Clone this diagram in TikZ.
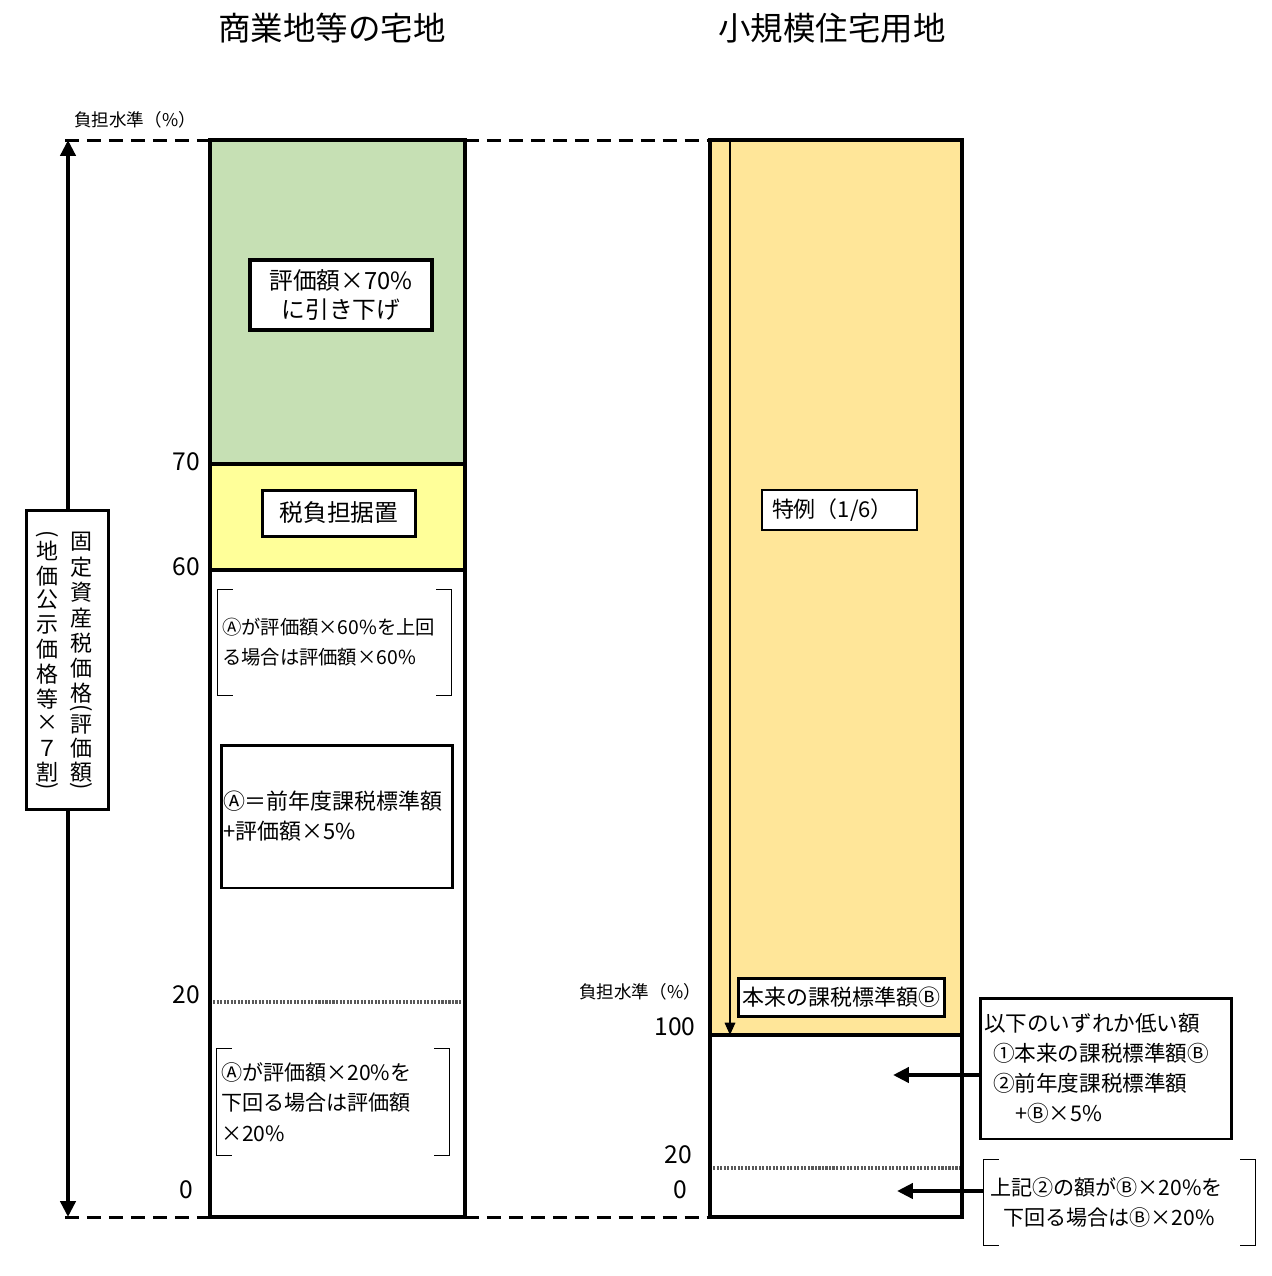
\documentclass[tikz,border=0pt]{standalone}
\usepackage{fontspec}
\setmainfont{Noto Sans CJK JP}
\usetikzlibrary{arrows.meta,calc,positioning}
\definecolor{vertclair}{RGB}{198,224,180}
\definecolor{jaunepale}{RGB}{255,255,153}
\definecolor{orangeclair}{RGB}{255,230,153}
% crochets autour d'un texte
\newcommand{\crochets}[1]{%
  \draw[crochet] ($(#1.north west)+(15,0)$) -- (#1.north west) -- (#1.south west) -- ++(15,0);
  \draw[crochet] ($(#1.north east)+(-15,0)$) -- (#1.north east) -- (#1.south east) -- ++(-15,0);}

\begin{document}
\begin{tikzpicture}[x=0.02cm,y=-0.02cm,>=Stealth,
  cadre/.style={draw,line width=1.7pt,fill=white,inner sep=0pt},
  crochet/.style={line width=0.6pt},
  tirets/.style={line width=1.7pt,dash pattern=on 8pt off 4.5pt},
  pointille/.style={line width=2pt,black!65,dash pattern=on 1.2pt off 0.8pt},
  fleche/.style={line width=2.3pt,-{Triangle[length=9pt,width=8.5pt]}},
  colonne/.style={line width=2.4pt},
  graduation/.style={font=\fontsize{14}{14}\selectfont},
  petit/.style={font=\fontsize{10}{10}\selectfont},
  vert/.style={font=\fontsize{12.5}{12.5}\selectfont,inner sep=0pt}]
  \useasboundingbox (0,0) rectangle (1272,1276);
  % titres
  \node[font=\fontsize{18.5}{20}\selectfont] (titreA) at (332,28) {商業地等の宅地};
  \node[font=\fontsize{18.5}{20}\selectfont] (titreB) at (832,28) {小規模住宅用地};
  % colonne gauche
  \fill[vertclair] (210,140) rectangle (465,464);
  \fill[jaunepale] (210,464) rectangle (465,570);
  \draw[colonne] (210,464) -- (465,464);
  \draw[colonne] (210,570) -- (465,570);
  \draw[pointille] (213,1002) -- (462,1002);
  \draw[colonne] (210,140) rectangle (465,1217);
  % colonne droite
  \fill[orangeclair] (710,140) rectangle (962,1035);
  \draw[colonne] (710,1035) -- (962,1035);
  \draw[pointille] (713,1168) -- (959,1168);
  \draw[colonne] (710,140) rectangle (962,1217);
  % niveaux haut et bas
  \draw[tirets] (65,140) -- (210,140);
  \draw[tirets] (465,140) -- (710,140);
  \draw[tirets] (65,1217) -- (210,1217);
  \draw[tirets] (465,1217) -- (710,1217);
  % axe vertical
  \coordinate (sommet) at (68,140);
  \coordinate (base) at (68,1217);
  \draw[line width=2.3pt,{Triangle[length=9pt,width=8.5pt]}-{Triangle[length=9pt,width=8.5pt]}] (sommet) -- (base);
  \node[cadre,minimum width=1.66cm,minimum height=6cm] (axe) at (67.5,660) {};
  \foreach \c/\y [count=\i] in {固/542,定/567,資/592,産/618,税/643,価/668,格/693,評/725,価/748,額/772}
    \node[vert] (d\i) at (81,\y) {\c};
  \foreach \c/\y [count=\i] in {地/551,価/576,公/600,示/625,価/649,格/674,等/699,×/723,７/748,割/772}
    \node[vert] (g\i) at (47,\y) {\c};
  \node[vert] (pd1) at (81,708) {\rotatebox{-90}{(}};
  \node[vert] (pd2) at (81,786) {\rotatebox{-90}{)}};
  \node[vert] (pg1) at (47,534) {\rotatebox{-90}{(}};
  \node[vert] (pg2) at (47,786) {\rotatebox{-90}{)}};
  \node[petit] (niveauA) at (135,120) {負担水準（\%）};
  % graduations
  \node[graduation] (n70) at (186,462) {70};
  \node[graduation] (n60) at (186,567) {60};
  \node[graduation] (n20) at (186,995) {20};
  \node[graduation] (n0) at (186,1190) {0};
  \node[petit] (niveauB) at (640,992) {負担水準（\%）};
  \node[graduation] (m100) at (675,1027) {100};
  \node[graduation] (m20) at (678,1155) {20};
  \node[graduation] (m0) at (680,1190) {0};
  % textes colonne gauche
  \node[cadre,line width=2pt,minimum width=3.64cm,minimum height=1.4cm,align=center,
    font=\fontsize{13.5}{17}\selectfont] (baisse) at (341,295) {評価額×70\%\\に引き下げ};
  \node[cadre,minimum width=3.08cm,minimum height=0.92cm,font=\fontsize{13.5}{17}\selectfont]
    (gel) at (339,513) {税負担据置};
  \node[inner xsep=0.08cm,text width=4.5cm,minimum height=2.1cm,align=left,
    font=\fontsize{11}{17}\selectfont] (plafond) at (334.5,642.5)
    {Ⓐが評価額×60\%を上回\\る場合は評価額×60\%};
  \crochets{plafond}
  \node[cadre,inner xsep=0.04cm,text width=4.56cm,minimum height=2.86cm,align=left,
    font=\fontsize{12.5}{17}\selectfont] (formule) at (337,816.5)
    {Ⓐ＝前年度課税標準額\\+評価額×5\%};
  \node[inner xsep=0.08cm,text width=4.48cm,minimum height=2.12cm,align=left,
    font=\fontsize{12}{17.3}\selectfont] (plancher) at (333,1102)
    {Ⓐが評価額×20\%を\\下回る場合は評価額\\×20\%};
  \crochets{plancher}
  % textes colonne droite
  \coordinate (flhaut) at (730,140);
  \coordinate (flbas) at (730,1035);
  \draw[line width=0.9pt,-{Triangle[length=7pt,width=6pt]}] (flhaut) -- (flbas);
  \node[cadre,line width=1.4pt,inner xsep=0.2cm,text width=2.7cm,minimum height=0.8cm,align=left,
    font=\fontsize{12.5}{15}\selectfont] (special) at (839.5,510) {特例（1/6）};
  \node[cadre,minimum width=4.14cm,minimum height=0.76cm,font=\fontsize{12.5}{15}\selectfont]
    (normal) at (841.5,997) {本来の課税標準額Ⓑ};
  \node[cadre,inner xsep=0.08cm,text width=4.88cm,minimum height=2.82cm,align=left,
    font=\fontsize{12.3}{17}\selectfont] (choix) at (1106,1068.5)
    {以下のいずれか低い額\\\hspace*{0.18cm}①本来の課税標準額Ⓑ\\\hspace*{0.18cm}②前年度課税標準額\\\hspace*{0.62cm}+Ⓑ×5\%};
  \node[inner xsep=0.12cm,text width=5.18cm,minimum height=1.7cm,align=left,
    font=\fontsize{12}{17}\selectfont] (minimum) at (1119.5,1202.5)
    {上記②の額がⒷ×20\%を\\\hspace*{0.26cm}下回る場合はⒷ×20\%};
  \crochets{minimum}
  % fleches
  \coordinate (cible1) at (893,1075);
  \coordinate (cible2) at (897,1191);
  \draw[fleche] (cible1 -| choix.west) -- (cible1);
  \draw[fleche] (cible2 -| minimum.west) -- (cible2);
\end{tikzpicture}
\end{document}
